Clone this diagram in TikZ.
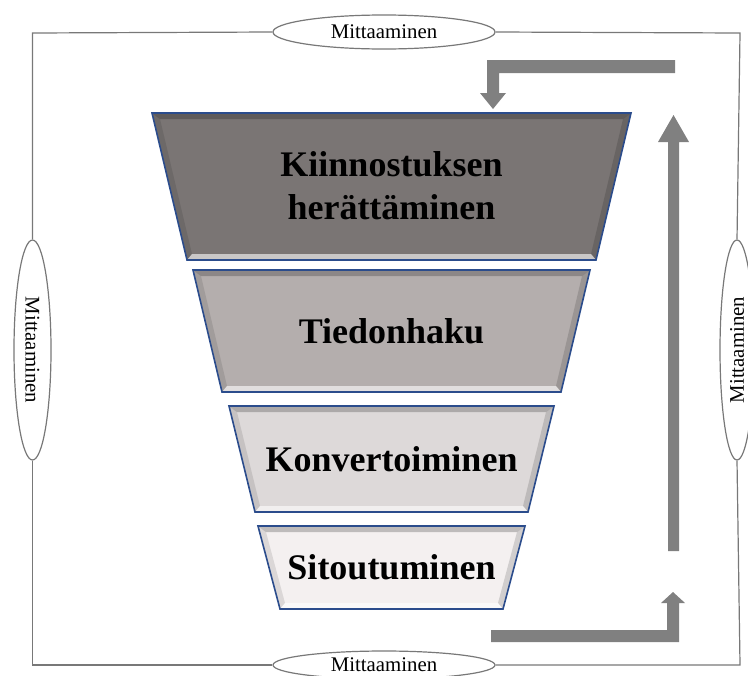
\documentclass[tikz,border=0pt]{standalone}
\usepackage{fontspec}
\setmainfont{Liberation Serif}
\usetikzlibrary{shapes.geometric}

\definecolor{faceA}{RGB}{122,117,116}
\definecolor{faceB}{RGB}{180,174,173}
\definecolor{faceC}{RGB}{221,217,217}
\definecolor{faceD}{RGB}{244,240,240}
\definecolor{edgeblue}{RGB}{43,76,140}
\definecolor{arrowgray}{RGB}{128,128,128}
\definecolor{framegray}{RGB}{120,120,120}

\tikzset{
  stage/.style={font=\bfseries\fontsize{18}{21.5}\selectfont, align=center, inner sep=0pt},
  measure/.style={ellipse, draw=framegray, line width=0.6pt, fill=white, inner sep=0pt,
    font=\fontsize{10.4}{12}\selectfont},
  frame/.style={draw=framegray, line width=0.6pt},
  blockarrow/.style={fill=arrowgray, draw=none}
}

\begin{document}
\begin{tikzpicture}[x=0.5pt, y=-0.5pt]
	  \useasboundingbox (0,0) rectangle (748,675);

	  % funnel parts: top left/right, top y, bottom left/right, bottom y, colour
	  \foreach \a/\b/\t/\c/\d/\u/\col in {152/631/113/187/596/260/faceA,
	      193/590/270/222/561/392/faceB,
	      229/554/406/255/528/512/faceC,
	      258/525/526/280/503/609/faceD}{
	    \fill[\col] (\a,\t) -- (\b,\t) -- (\d,\u) -- (\c,\u) -- cycle;
	    % bevel
	    \fill[black, opacity=0.22] (\a,\t) -- (\b,\t) -- ({\b-8},{\t+6}) -- ({\a+8},{\t+6}) -- cycle;
	    \fill[black, opacity=0.10] (\a,\t) -- ({\a+8},{\t+6}) -- ({\c+5},{\u-6}) -- (\c,\u) -- cycle;
	    \fill[black, opacity=0.14] (\b,\t) -- ({\b-8},{\t+6}) -- ({\d-5},{\u-6}) -- (\d,\u) -- cycle;
	    \fill[white, opacity=0.6] (\c,\u) -- ({\c+5},{\u-6}) -- ({\d-5},{\u-6}) -- (\d,\u) -- cycle;
	    \draw[edgeblue, line width=0.8pt] (\a,\t) -- (\b,\t) -- (\d,\u) -- (\c,\u) -- cycle;
	  }

	  \node[stage] (interest) at (391.5,186) {Kiinnostuksen\\herättäminen};
	  \node[stage] (search) at (391.5,331) {Tiedonhaku};
	  \node[stage] (convert) at (391.5,459) {Konvertoiminen};
	  \node[stage] (commit) at (391.5,567) {Sitoutuminen};

	  % measuring frame
	  \coordinate (tl) at (32.5,33);
	  \coordinate (tr) at (740,33);
	  \coordinate (bl) at (32.5,665);
	  \coordinate (br) at (740,665);

	  \node[measure, minimum width=111pt, minimum height=17pt] (mtop) at (384,32) {Mittaaminen};
	  \node[measure, minimum width=111pt, minimum height=14pt] (mbot) at (384,665) {Mittaaminen};
	  \node[measure, rotate=-90, minimum width=110pt, minimum height=18.5pt] (mleft) at (32.5,350) {Mittaaminen};
	  \node[measure, rotate=90, minimum width=110pt, minimum height=17pt] (mright) at (737,350) {Mittaaminen};

	  \draw[frame] (mtop.west) -- (tl) -- (mleft.west);
	  \draw[frame] (mleft.east) -- (bl) -- (mbot.west);
	  \draw[frame] (mbot.east) -- (br) -- (mright.west);
	  \draw[frame] (mright.east) -- (tr) -- (mtop.east);

	  % cycle arrows
	  \fill[blockarrow] (675,60) -- (487,60) -- (487,93) -- (480,93) -- (493,109) -- (506,93)
	    -- (499,93) -- (499,73) -- (675,73) -- cycle;
	  \fill[blockarrow] (668,551) -- (668,142) -- (658,142) -- (673.5,115) -- (689,142)
	    -- (679,142) -- (679,551) -- cycle;
	  \fill[blockarrow] (491,630) -- (667,630) -- (667,603) -- (661,603) -- (673,592)
	    -- (685,603) -- (679,603) -- (679,642) -- (491,642) -- cycle;
	\end{tikzpicture}
\end{document}
